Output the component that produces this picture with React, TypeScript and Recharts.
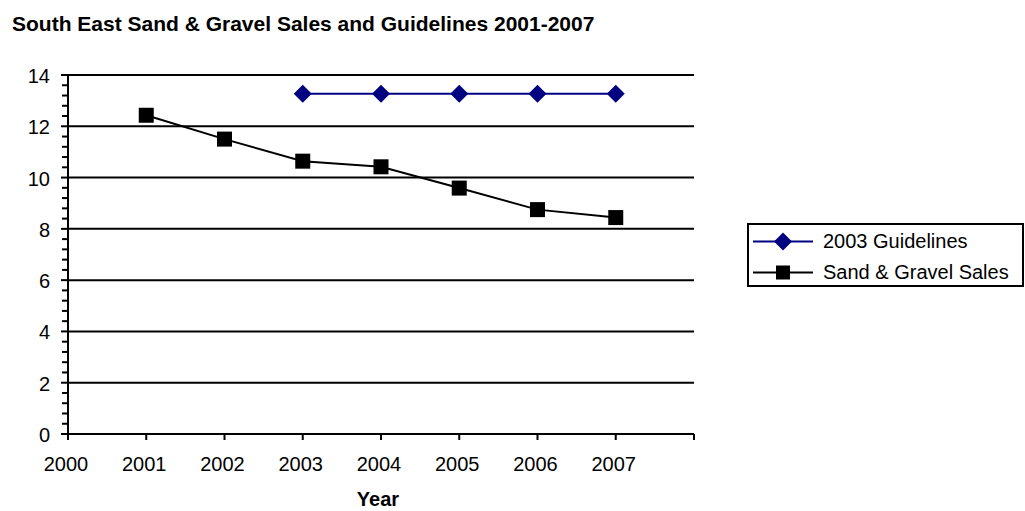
import React from 'react';
import { LineChart, Line, XAxis, YAxis, ReferenceLine } from 'recharts';

const years = [2001, 2002, 2003, 2004, 2005, 2006, 2007];
const salesValues = [12.43, 11.5, 10.64, 10.42, 9.59, 8.75, 8.44];
const guidelineValues = [null, null, 13.27, 13.27, 13.27, 13.27, 13.27];

const xTicks = [2000, 2001, 2002, 2003, 2004, 2005, 2006, 2007, 2008];
const majorYTicks = [0, 2, 4, 6, 8, 10, 12, 14];
const seriesNames = ['2003 Guidelines', 'Sand & Gravel Sales'];

const FONT = '"Liberation Sans", Arial, sans-serif';
const NAVY = '#000080';

// minor ticks every 0.4 (Excel style: major / 5)
const yTicks: number[] = [];
for (let i = 0; i <= 35; i++) yTicks.push(Math.round(i * 4) / 10);

const data = years.map((year, i) => ({
  year,
  sales: salesValues[i],
  guidelines: guidelineValues[i],
}));

const Square = ({ cx, cy, side = 15 }: any) => {
  if (cx == null || cy == null) return null;
  return <rect x={cx - side / 2} y={cy - side / 2} width={side} height={side} fill="#000" />;
};

const Diamond = ({ cx, cy, half = 9 }: any) => {
  if (cx == null || cy == null) return null;
  return (
    <polygon
      points={`${cx},${cy - half} ${cx + half},${cy} ${cx},${cy + half} ${cx - half},${cy}`}
      fill={NAVY}
    />
  );
};

const YTick = (props: any) => {
  const { x, y, payload } = props;
  const v = payload.value;
  const major = majorYTicks.includes(v);
  return (
    <g>
      <line x1={x - (major ? 7 : 6)} x2={x} y1={y} y2={y} stroke="#000" strokeWidth={2} />
      {major && (
        <text x={x - 18} y={y} dy={8} textAnchor="end" fontSize={20} fontFamily={FONT} fill="#000">
          {v}
        </text>
      )}
    </g>
  );
};

const LegendBox = () => (
  <div
    style={{
      position: 'absolute',
      left: 747,
      top: 223,
      width: 277,
      height: 64,
      border: '2px solid #000',
      boxSizing: 'border-box',
      background: '#fff',
      fontFamily: FONT,
      fontSize: 20,
    }}
  >
    {seriesNames.map((name, i) => (
      <div
        key={name}
        style={{ position: 'absolute', left: 0, top: 1 + i * 31, height: 31, width: 273, display: 'flex', alignItems: 'center' }}
      >
        <svg width={70} height={31} style={{ display: 'block' }}>
          <line x1={4} x2={64} y1={15.5} y2={15.5} stroke={i === 0 ? NAVY : '#000'} strokeWidth={2} />
          {i === 0 ? <Diamond cx={34} cy={15.5} /> : <Square cx={34} cy={15.5} side={14} />}
        </svg>
        <span style={{ marginLeft: 4, lineHeight: '31px', whiteSpace: 'nowrap' }}>{name}</span>
      </div>
    ))}
  </div>
);

const App: React.FC = () => {
  return (
    <div style={{ position: 'absolute', left: 0, top: 0, width: 1025, height: 511, background: '#fff' }}>
      <div
        style={{
          position: 'absolute',
          left: 12,
          top: 13,
          fontFamily: FONT,
          fontWeight: 'bold',
          fontSize: 21,
          lineHeight: '21px',
          whiteSpace: 'nowrap',
        }}
      >
        South East Sand &amp; Gravel Sales and Guidelines 2001-2007
      </div>
      <LineChart width={1025} height={511} data={data} margin={{ top: 75, right: 331, bottom: 0, left: 0 }}>
        {majorYTicks.slice(1).map((v) => (
          <ReferenceLine key={v} y={v} stroke="#000" strokeWidth={2} />
        ))}
        <XAxis
          dataKey="year"
          type="number"
          domain={[2000, 2008]}
          ticks={xTicks}
          interval={0}
          height={77}
          tickSize={6}
          tickMargin={17}
          tickFormatter={(v: number) => (v === 2008 ? '' : String(v))}
          axisLine={{ stroke: '#000', strokeWidth: 2 }}
          tickLine={{ stroke: '#000', strokeWidth: 2 }}
          tick={{ fill: '#000', fontSize: 20, fontFamily: FONT, dx: -2 }}
          label={{
            value: 'Year',
            position: 'insideBottom',
            offset: 5,
            dx: -3,
            fill: '#000',
            fontSize: 20,
            fontWeight: 'bold',
            fontFamily: FONT,
          }}
        />
        <YAxis
          domain={[0, 14]}
          ticks={yTicks}
          interval={0}
          width={68}
          tickSize={0}
          tickMargin={0}
          tickLine={false}
          axisLine={{ stroke: '#000', strokeWidth: 2 }}
          tick={<YTick />}
        />
        <Line
          dataKey="guidelines"
          stroke={NAVY}
          strokeWidth={2}
          dot={(p: any) => <Diamond key={`d${p.index}`} cx={p.cx} cy={p.cy} />}
          activeDot={false}
          isAnimationActive={false}
        />
        <Line
          dataKey="sales"
          stroke="#000"
          strokeWidth={2}
          dot={(p: any) => <Square key={`s${p.index}`} cx={p.cx} cy={p.cy} />}
          activeDot={false}
          isAnimationActive={false}
        />
      </LineChart>
      <LegendBox />
    </div>
  );
};

export default App;
